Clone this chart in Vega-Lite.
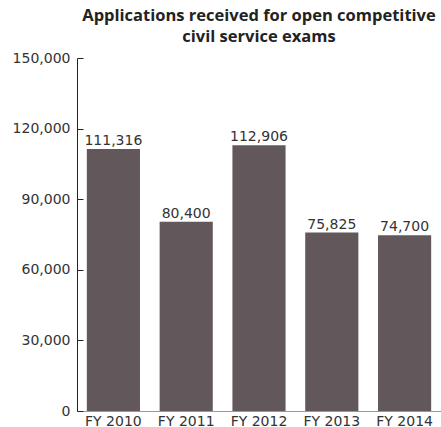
{
  "$schema": "https://vega.github.io/schema/vega-lite/v6.json",
  "autosize": {"type": "none"},
  "padding": {"left": 77, "top": 58, "right": 0, "bottom": 16},
  "width": 364,
  "height": 353,
  "background": "white",
  "title": {
    "text": ["Applications received for open competitive", "civil service exams"],
    "font": "Open Sans",
    "fontSize": 16.5,
    "fontWeight": "bold",
    "color": "#222222",
    "anchor": "middle",
    "lineHeight": 21,
    "offset": 6
  },
  "data": {
    "values": [
      {"year": "FY 2010", "applications": 111316},
      {"year": "FY 2011", "applications": 80400},
      {"year": "FY 2012", "applications": 112906},
      {"year": "FY 2013", "applications": 75825},
      {"year": "FY 2014", "applications": 74700}
    ]
  },
  "config": {"view": {"stroke": null}},
  "encoding": {
    "x": {
      "field": "year", "type": "nominal", "sort": null,
      "scale": {"paddingInner": 0.27, "paddingOuter": 0.135},
      "axis": {
        "title": null, "labelAngle": 0, "ticks": false, "domainColor": "#999999",
        "labelFont": "DejaVu Sans", "labelFontSize": 14, "labelColor": "#333333",
        "labelPadding": 3
      }
    },
    "y": {
      "field": "applications", "type": "quantitative",
      "scale": {"domain": [0, 150000]},
      "axis": {
        "title": null, "values": [0, 30000, 60000, 90000, 120000, 150000],
        "format": ",d", "grid": false, "domainColor": "#222222", "tickColor": "#222222",
        "tickSize": -6, "labelPadding": 13, "labelFont": "DejaVu Sans", "labelFontSize": 14,
        "labelColor": "#333333"
      }
    }
  },
  "layer": [
    {"mark": {"type": "bar", "color": "#62575b"}},
    {
      "mark": {"type": "text", "baseline": "alphabetic", "dy": -4, "font": "DejaVu Sans", "fontSize": 14, "color": "#333333"},
      "encoding": {"text": {"field": "applications", "type": "quantitative", "format": ",d"}}
    }
  ]
}
